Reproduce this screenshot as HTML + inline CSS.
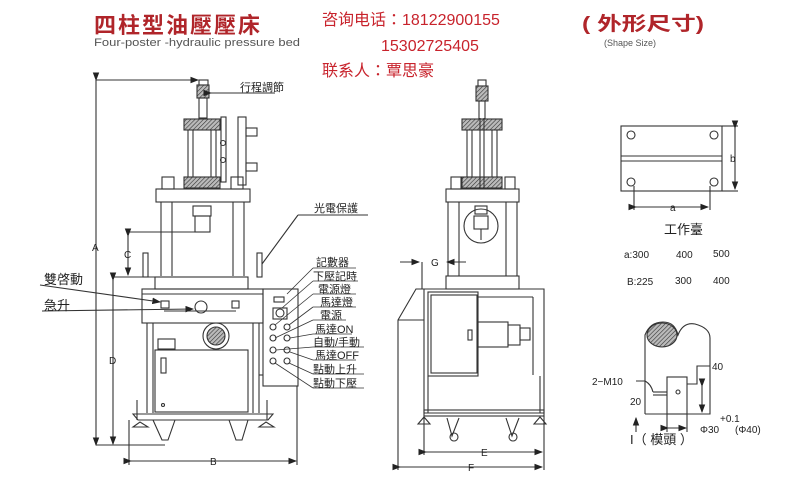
<!DOCTYPE html>
<html><head><meta charset="utf-8"><style>
body{margin:0;background:#fff;width:800px;height:481px;overflow:hidden}
svg{display:block}
text{font-family:"Liberation Sans","Noto Sans CJK TC",sans-serif}
</style></head><body>
<svg width="800" height="481" viewBox="0 0 800 481" xmlns="http://www.w3.org/2000/svg">
<defs>
<pattern id="h" width="3" height="3" patternUnits="userSpaceOnUse" patternTransform="rotate(45)"><rect width="3" height="3" fill="#bbb"/><line x1="0" y1="0" x2="0" y2="3" stroke="#333" stroke-width="1.2"/></pattern>
<marker id="ar" markerWidth="8" markerHeight="6" refX="7" refY="3" orient="auto"><path d="M0,0L8,3L0,6z" fill="#222"/></marker>
</defs>
<!-- header -->
<text x="94" y="33" font-size="22" font-weight="bold" fill="#b0252a" font-family="'Noto Sans CJK TC',sans-serif" letter-spacing="2">四柱型油壓壓床</text>
<text x="94" y="46" font-size="11" fill="#555" textLength="206" lengthAdjust="spacingAndGlyphs">Four-poster -hydraulic pressure bed</text>
<g fill="#c8232c" font-family="'Liberation Sans','Noto Sans CJK SC',sans-serif">
<text x="322" y="25" font-size="16">咨询电话：18122900155</text>
<text x="381" y="51" font-size="16">15302725405</text>
<text x="322" y="76" font-size="16">联系人：覃思豪</text>
<text x="582" y="30" font-size="19" font-weight="bold" fill="#b0252a" textLength="122" lengthAdjust="spacingAndGlyphs">(  外形尺寸)</text>
</g>
<text x="604" y="46" font-size="9" fill="#555">(Shape Size)</text>

<g stroke="#333" stroke-width="1.1" fill="none">
<!-- LEFT MACHINE -->
<line x1="96" y1="80" x2="96" y2="445" marker-start="url(#ar)" marker-end="url(#ar)"/>
<line x1="96" y1="80" x2="198" y2="80" marker-end="url(#ar)"/>
<rect x="199" y="80" width="9" height="5"/>
<rect x="197" y="85" width="12" height="13" fill="url(#h)"/>
<rect x="199" y="98" width="8" height="20"/>
<line x1="211" y1="93" x2="275" y2="93" marker-start="url(#ar)"/>
<rect x="184" y="119" width="36" height="11" fill="url(#h)"/>
<rect x="184" y="177" width="36" height="11" fill="url(#h)"/>
<line x1="188" y1="130" x2="188" y2="177"/><line x1="193" y1="130" x2="193" y2="177"/>
<line x1="211" y1="130" x2="211" y2="177"/><line x1="216" y1="130" x2="216" y2="177"/>
<rect x="221" y="117" width="5" height="65"/><rect x="238" y="117" width="8" height="68"/>
<rect x="246" y="128" width="11" height="8"/><rect x="246" y="163" width="11" height="8"/>
<circle cx="223" cy="143" r="2.5"/><circle cx="223" cy="160" r="2.5"/>
<rect x="162" y="177" width="12" height="12"/><rect x="231" y="177" width="12" height="12"/>
<rect x="156" y="189" width="94" height="13"/>
<line x1="161" y1="202" x2="161" y2="276"/><line x1="172" y1="202" x2="172" y2="276"/>
<line x1="233" y1="202" x2="233" y2="276"/><line x1="244" y1="202" x2="244" y2="276"/>
<rect x="193" y="206" width="18" height="10"/><rect x="195" y="216" width="15" height="16"/>
<line x1="128" y1="232" x2="195" y2="232"/>
<line x1="128" y1="236" x2="128" y2="275" marker-start="url(#ar)" marker-end="url(#ar)"/>
<rect x="143" y="253" width="5" height="24"/><rect x="257" y="253" width="5" height="24"/>
<line x1="262" y1="264" x2="298" y2="215"/><line x1="298" y1="215" x2="368" y2="215"/>
<line x1="113" y1="277" x2="160" y2="277"/>
<line x1="113" y1="280" x2="113" y2="444" marker-start="url(#ar)" marker-end="url(#ar)"/>
<line x1="96" y1="445" x2="165" y2="445"/>
<rect x="155" y="277" width="93" height="12"/>
<rect x="142" y="289" width="121" height="34"/>
<line x1="142" y1="294" x2="263" y2="294"/>
<rect x="161" y="301" width="8" height="7"/><rect x="232" y="301" width="7" height="7"/>
<circle cx="201" cy="307" r="6"/>
<line x1="164" y1="311" x2="236" y2="311"/>
<line x1="40" y1="285" x2="160" y2="302" marker-end="url(#ar)"/>
<line x1="42" y1="311" x2="193" y2="309" marker-end="url(#ar)"/>
<line x1="147" y1="323" x2="147" y2="413"/><line x1="153" y1="323" x2="153" y2="413"/>
<line x1="253" y1="323" x2="253" y2="413"/><line x1="259" y1="323" x2="259" y2="413"/>
<circle cx="216" cy="336" r="13"/><circle cx="216" cy="336" r="9" fill="url(#h)"/>
<rect x="158" y="339" width="17" height="10"/>
<rect x="155" y="350" width="93" height="62"/>
<rect x="161" y="358" width="5" height="15"/><circle cx="163" cy="405" r="1.5"/>
<rect x="263" y="289" width="35" height="97"/>
<line x1="259" y1="375" x2="263" y2="375"/>
<rect x="274" y="297" width="10" height="5"/><rect x="273" y="308" width="14" height="11"/><circle cx="280" cy="313" r="4"/>
<circle cx="273" cy="327" r="3"/><circle cx="287" cy="327" r="3"/>
<circle cx="273" cy="338" r="3"/><circle cx="287" cy="338" r="3"/>
<circle cx="273" cy="350" r="3"/><circle cx="287" cy="350" r="3"/>
<circle cx="273" cy="361" r="3"/><circle cx="287" cy="361" r="3"/>
<path d="M133,414L273,414L268,420L138,420Z"/>
<path d="M153,420L162,440L168,440L175,420"/><path d="M229,420L236,440L242,440L248,420"/>
<path d="M133,427L140,422L148,427Z"/><path d="M259,427L266,422L274,427Z"/>
<line x1="137" y1="400" x2="137" y2="420"/><line x1="267" y1="400" x2="267" y2="420"/>
<line x1="129" y1="420" x2="129" y2="465"/><line x1="297" y1="386" x2="297" y2="465"/>
<line x1="131" y1="461" x2="296" y2="461" marker-start="url(#ar)" marker-end="url(#ar)"/>
<g stroke-width="0.8">
<line x1="313" y1="268" x2="356" y2="268"/><line x1="313" y1="281" x2="358" y2="281"/>
<line x1="313" y1="294" x2="356" y2="294"/><line x1="313" y1="307" x2="356" y2="307"/>
<line x1="313" y1="320" x2="346" y2="320"/><line x1="313" y1="334" x2="352" y2="334"/>
<line x1="313" y1="347" x2="364" y2="347"/><line x1="313" y1="360" x2="356" y2="360"/>
<line x1="313" y1="374" x2="364" y2="374"/><line x1="313" y1="388" x2="364" y2="388"/>
<line x1="313" y1="268" x2="287" y2="294"/><line x1="313" y1="281" x2="282" y2="308"/>
<line x1="313" y1="294" x2="275" y2="325"/><line x1="313" y1="307" x2="289" y2="325"/>
<line x1="313" y1="320" x2="275" y2="338"/><line x1="313" y1="334" x2="290" y2="338"/>
<line x1="313" y1="347" x2="276" y2="350"/><line x1="313" y1="360" x2="290" y2="352"/>
<line x1="313" y1="374" x2="289" y2="363"/><line x1="313" y1="388" x2="275" y2="363"/>
</g>

<!-- MIDDLE MACHINE -->
<rect x="478" y="80" width="8" height="6"/><rect x="476" y="86" width="12" height="15" fill="url(#h)"/>
<rect x="479" y="101" width="6" height="18"/>
<rect x="462" y="119" width="40" height="11" fill="url(#h)"/>
<rect x="462" y="177" width="40" height="11" fill="url(#h)"/>
<line x1="467" y1="130" x2="467" y2="177"/><line x1="472" y1="130" x2="472" y2="177"/>
<line x1="480" y1="118" x2="480" y2="188"/><line x1="484" y1="118" x2="484" y2="188"/>
<line x1="492" y1="130" x2="492" y2="177"/><line x1="497" y1="130" x2="497" y2="177"/>
<rect x="451" y="177" width="10" height="12"/><rect x="505" y="177" width="10" height="12"/>
<rect x="446" y="189" width="73" height="13"/>
<line x1="448" y1="202" x2="448" y2="276"/><line x1="459" y1="202" x2="459" y2="276"/>
<line x1="506" y1="202" x2="506" y2="276"/><line x1="517" y1="202" x2="517" y2="276"/>
<circle cx="481" cy="226" r="17"/>
<rect x="475" y="206" width="12" height="8"/><rect x="474" y="216" width="14" height="13"/>
<line x1="481" y1="229" x2="481" y2="240"/>
<line x1="400" y1="262" x2="419" y2="262" marker-end="url(#ar)"/>
<line x1="466" y1="262" x2="447" y2="262" marker-end="url(#ar)"/>
<line x1="422" y1="262" x2="422" y2="289"/>
<rect x="446" y="276" width="73" height="13"/>
<path d="M424,289L544,289L544,413L424,413Z"/>
<path d="M424,289L416,289L398,320L398,470"/><line x1="398" y1="320" x2="424" y2="320"/>
<rect x="428" y="292" width="50" height="84"/><rect x="431" y="295" width="46" height="78"/>
<rect x="468" y="330" width="4" height="10"/>
<rect x="478" y="322" width="30" height="25"/><rect x="508" y="325" width="12" height="20"/><rect x="520" y="328" width="10" height="12"/>
<line x1="478" y1="297" x2="533" y2="297"/><line x1="533" y1="297" x2="533" y2="375"/>
<line x1="428" y1="376" x2="428" y2="413"/><line x1="540" y1="376" x2="540" y2="413"/>
<rect x="424" y="410" width="120" height="6"/>
<path d="M418,424L424,417L430,424Z"/><path d="M534,424L540,417L546,424Z"/>
<path d="M447,418L452,436L459,418"/><circle cx="454" cy="437" r="4"/>
<path d="M506,418L512,436L519,418"/><circle cx="513" cy="437" r="4"/>
<line x1="424" y1="416" x2="424" y2="455"/><line x1="544" y1="416" x2="544" y2="470"/>
<line x1="426" y1="452" x2="542" y2="452" marker-start="url(#ar)" marker-end="url(#ar)"/>
<line x1="400" y1="467" x2="542" y2="467" marker-start="url(#ar)" marker-end="url(#ar)"/>

<!-- WORKBENCH -->
<rect x="621" y="126" width="101" height="65"/>
<line x1="621" y1="156" x2="722" y2="156"/><line x1="621" y1="161" x2="722" y2="161"/>
<circle cx="631" cy="135" r="4"/><circle cx="714" cy="135" r="4"/>
<circle cx="631" cy="182" r="4"/><circle cx="714" cy="182" r="4"/>
<line x1="722" y1="126" x2="738" y2="126"/><line x1="722" y1="191" x2="738" y2="191"/>
<line x1="735" y1="128" x2="735" y2="189" marker-start="url(#ar)" marker-end="url(#ar)"/>
<line x1="634" y1="186" x2="634" y2="210"/><line x1="710" y1="186" x2="710" y2="210"/>
<line x1="636" y1="207" x2="708" y2="207" marker-start="url(#ar)" marker-end="url(#ar)"/>

<!-- TOOL HEAD -->
<path d="M645,414L645,335Q650,322 663,322Q675,322 678,335Q683,322 695,324Q710,328 710,338L710,414L645,414"/>
<ellipse cx="662" cy="335" rx="15" ry="12" fill="url(#h)"/>
<rect x="667" y="377" width="20" height="37" fill="#fff"/><circle cx="678" cy="392" r="2"/>
<path d="M687,384L697,384L697,366L710,366"/>
<line x1="702" y1="386" x2="702" y2="412" marker-start="url(#ar)" marker-end="url(#ar)"/>
<line x1="653" y1="392" x2="667" y2="392"/><line x1="653" y1="395" x2="667" y2="395"/>
<path d="M636,381L645,381Q651,384 653,392"/>
<line x1="636" y1="432" x2="636" y2="418" marker-end="url(#ar)"/>
<line x1="667" y1="414" x2="667" y2="432"/><line x1="687" y1="414" x2="687" y2="432"/>
<line x1="668" y1="428" x2="686" y2="428" marker-start="url(#ar)" marker-end="url(#ar)"/>
</g>

<g fill="#222" font-size="11" font-family="'Noto Sans CJK TC',sans-serif">
<text x="240" y="91">行程調節</text>
<text x="314" y="212">光電保護</text>
<text x="44" y="284" font-size="13">雙啓動</text>
<text x="44" y="310" font-size="13">急升</text>
<text x="316" y="266">記數器</text>
<text x="313" y="280">下壓記時</text>
<text x="318" y="293">電源燈</text>
<text x="320" y="306">馬達燈</text>
<text x="320" y="319">電源</text>
<text x="315" y="333">馬達ON</text>
<text x="313" y="346">自動/手動</text>
<text x="315" y="359">馬達OFF</text>
<text x="313" y="373">點動上升</text>
<text x="313" y="387">點動下壓</text>
<text x="664" y="234" font-size="13">工作臺</text>
<text x="630" y="444" font-size="13">I（ 模頭 ）</text>
</g>
<g fill="#222" font-size="10">
<text x="92" y="251">A</text><text x="124" y="258">C</text><text x="109" y="364">D</text><text x="210" y="465">B</text>
<text x="431" y="266">G</text><text x="481" y="456">E</text><text x="468" y="471">F</text>
<text x="730" y="162">b</text><text x="670" y="211">a</text>
<text x="624" y="258">a:300</text><text x="676" y="258">400</text><text x="713" y="257">500</text>
<text x="627" y="285">B:225</text><text x="675" y="284">300</text><text x="713" y="284">400</text>
<text x="592" y="385">2−M10</text><text x="630" y="405">20</text><text x="712" y="370">40</text>
<text x="720" y="422">+0.1</text><text x="700" y="433">Φ30</text><text x="735" y="433">(Φ40)</text>
</g>
</svg>
</body></html>
